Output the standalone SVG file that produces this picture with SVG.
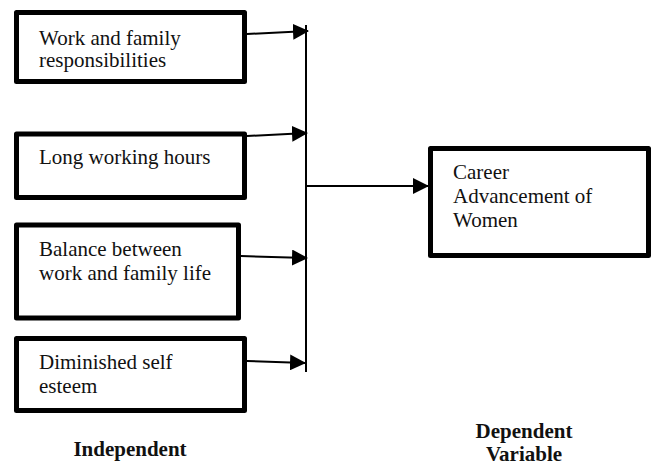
<svg xmlns="http://www.w3.org/2000/svg" width="653" height="466" viewBox="0 0 653 466">
<style>
.box{fill:#fff;stroke:#000;stroke-width:5;stroke-linejoin:round}
.t{font-family:"Liberation Serif","Times New Roman",serif;font-size:21px;fill:#111}
.b{font-family:"Liberation Serif","Times New Roman",serif;font-size:21px;font-weight:bold;fill:#111;text-anchor:middle}
.c{stroke:#000;stroke-width:2;fill:none}
</style>
<defs>
<marker id="ah" markerUnits="userSpaceOnUse" markerWidth="16" markerHeight="16" refX="15" refY="8" orient="auto">
<path d="M0,0 L16,8 L0,16 z" fill="#000"/>
</marker>
</defs>
<rect width="653" height="466" fill="#fff"/>
<g id="connectors">
<line class="c" x1="306" y1="25" x2="306" y2="372"/>
<line class="c" x1="247" y1="34" x2="308" y2="31" marker-end="url(#ah)"/>
<line class="c" x1="247" y1="136" x2="307" y2="133" marker-end="url(#ah)"/>
<line class="c" x1="241" y1="256" x2="307" y2="258" marker-end="url(#ah)"/>
<line class="c" x1="247" y1="361" x2="305" y2="363" marker-end="url(#ah)"/>
<line class="c" x1="306" y1="186" x2="428" y2="186" marker-end="url(#ah)"/>
</g>
<g id="n1">
<rect class="box" x="16.5" y="12.5" width="228" height="69"/>
<text class="t" x="39" y="45">Work and family</text>
<text class="t" x="39" y="67">responsibilities</text>
</g>
<g id="n2">
<rect class="box" x="16.5" y="134" width="228" height="63.5"/>
<text class="t" x="39" y="164">Long working hours</text>
</g>
<g id="n3">
<rect class="box" x="16.5" y="225" width="222" height="93"/>
<text class="t" x="39" y="256">Balance between</text>
<text class="t" x="39" y="280">work and family life</text>
</g>
<g id="n4">
<rect class="box" x="16.5" y="338.5" width="228" height="72"/>
<text class="t" x="39" y="369">Diminished self</text>
<text class="t" x="39" y="393">esteem</text>
</g>
<g id="n5">
<rect class="box" x="430.5" y="148.5" width="218" height="107"/>
<text class="t" x="453" y="179">Career</text>
<text class="t" x="453" y="203">Advancement of</text>
<text class="t" x="453" y="227">Women</text>
</g>
<g id="labels">
<text class="b" x="130" y="456">Independent</text>
<text class="b" x="524" y="438">Dependent</text>
<text class="b" x="524" y="461">Variable</text>
</g>
</svg>
